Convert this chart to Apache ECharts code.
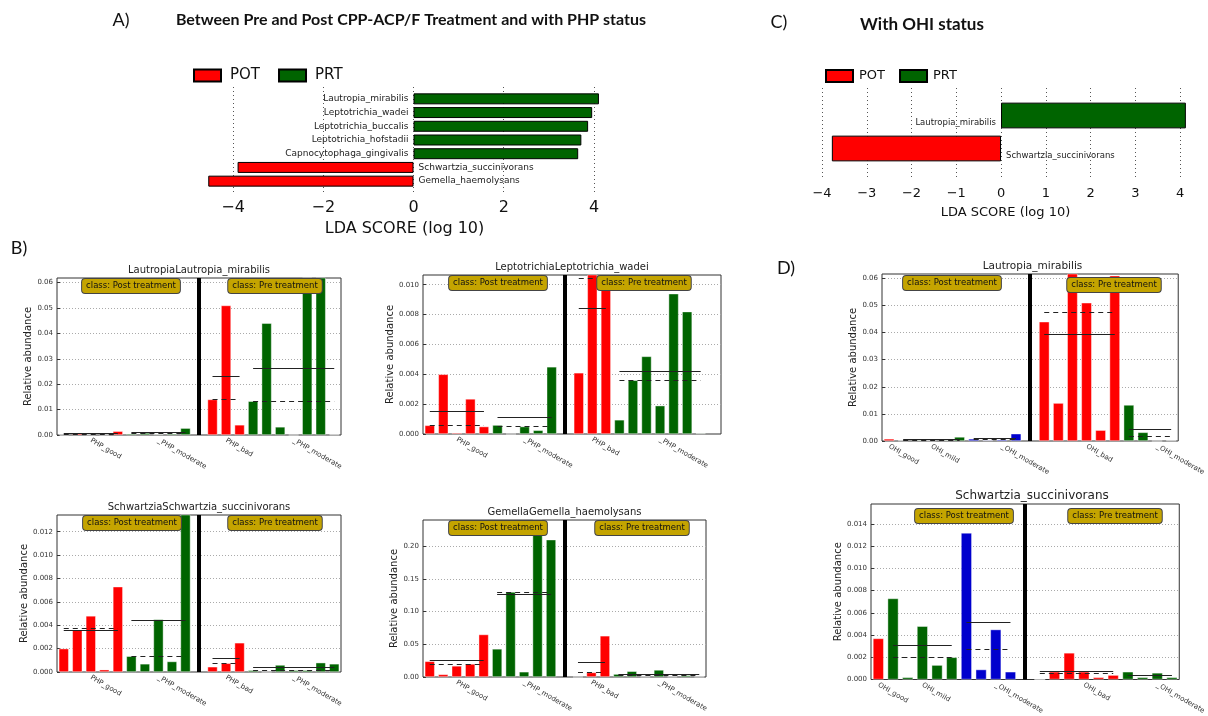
<!DOCTYPE html>
<html>
<head>
<meta charset="utf-8">
<script src="https://cdn.jsdelivr.net/npm/echarts@6/dist/echarts.min.js"></script>
<style>
  html, body { margin: 0; padding: 0; background: #fff; }
  #chart { width: 1208px; height: 716px; }
</style>
</head>
<body>
<div id="chart"></div>
<script>
// ---- LDA scores (panels A and C)
var ldaTaxaA = ['Lautropia_mirabilis', 'Leptotrichia_wadei', 'Leptotrichia_buccalis', 'Leptotrichia_hofstadii',
  'Capnocytophaga_gingivalis', 'Schwartzia_succinivorans', 'Gemella_haemolysans'];
var ldaScoresA = [4.11, 3.96, 3.87, 3.72, 3.65, -3.90, -4.55];
var ldaTaxaC = ['Lautropia_mirabilis', 'Schwartzia_succinivorans'];
var ldaScoresC = [4.13, -3.78];

// ---- sample groups
var phpGroups = ['PHP_good', '_PHP_moderate', 'PHP_bad', '_PHP_moderate'];
var phpCounts = [5, 5, 3, 7];
var phpColors = ['#f00', '#006400', '#f00', '#006400'];
var ohiGroups = ['OHI_good', 'OHI_mild', '_OHI_moderate', 'OHI_bad', '_OHI_moderate'];
var ohiCounts = [1, 5, 4, 6, 4];
var ohiColors = ['#f00', '#006400', '#0000cd', '#f00', '#006400'];

// ---- relative abundance per sample, with group mean (solid) and median (dashed)
var lautropiaPHP = [0.0001, 0.0008, 0.0002, 0.0001, 0.0015, 0.0005, 0.0008, 0.0003, 0.0005, 0.0027,
  0.014, 0.051, 0.004, 0.0133, 0.044, 0.0032, 0, 0.0622, 0.0621, 0.0002];
var lautropiaPHPMean = [0.00055, 0.001, 0.023, 0.0263];
var lautropiaPHPMedian = [0.0002, 0.0005, 0.014, 0.0133];

var wadeiPHP = [0.00058, 0.004, 0.00008, 0.00235, 0.0005, 0.0006, 0, 0.0005, 0.00025, 0.0045,
  0.0041, 0.0108, 0.0104, 0.00095, 0.0036, 0.0052, 0.0019, 0.0094, 0.0082, 0.00005];
var wadeiPHPMean = [0.0015, 0.00115, 0.0084, 0.0042];
var wadeiPHPMedian = [0.00058, 0.0005, 0.0104, 0.0036];

var schwartziaPHP = [0.002, 0.0036, 0.0048, 0.0002, 0.0073, 0.00135, 0.0007, 0.0045, 0.0009, 0.0148,
  0.00045, 0.00075, 0.0025, 0.00015, 0, 0.0006, 0.00015, 0.00015, 0.0008, 0.0007];
var schwartziaPHPMean = [0.0036, 0.00445, 0.0012, 0.0004];
var schwartziaPHPMedian = [0.0037, 0.00135, 0.00075, 0.00015];

var gemellaPHP = [0.024, 0.004, 0.017, 0.02, 0.065, 0.043, 0.13, 0.008, 0.245, 0.21,
  0, 0.007, 0.063, 0.0045, 0.0088, 0.0005, 0.0108, 0.0005, 0.0025, 0.0004];
var gemellaPHPMean = [0.026, 0.126, 0.023, 0.0045];
var gemellaPHPMedian = [0.02, 0.13, 0.007, 0.003];

var lautropiaOHI = [0.0008, 0.0002, 0.0003, 0.0002, 0.0003, 0.0015, 0.0008, 0.0003, 0.0005, 0.0027,
  0.044, 0.014, 0.063, 0.051, 0.004, 0.061, 0.0133, 0.0032, 0, 0.0002];
var lautropiaOHIMean = [null, 0.0005, 0.0011, 0.0395, 0.0042];
var lautropiaOHIMedian = [null, 0.0003, 0.0007, 0.0475, 0.0017];

var schwartziaOHI = [0.0037, 0.0073, 0.0002, 0.0048, 0.0013, 0.002, 0.0132, 0.0009, 0.0045, 0.0007,
  0, 0.0007, 0.0024, 0.0007, 0.0002, 0.0004, 0.0007, 0.0002, 0.0006, 0.0002];
var schwartziaOHIMean = [null, 0.0031, 0.0052, 0.00077, 0.0004];
var schwartziaOHIMedian = [null, 0.002, 0.0027, 0.0006, 0.0004];

var FONT = 'DejaVu Sans';
var HEAD = 'Lato';
var chart = echarts.init(document.getElementById('chart'));

var grids = [], xAxes = [], yAxes = [], series = [], graphics = [];

function minus(v) { return String(v).replace('-', '\u2212'); }

function ldaPanel(taxa, scores, o) {
  // frame grid: carries the dotted grid lines and the tick labels, a bit taller than the bars
  var fi = grids.length;
  grids.push(o.frame);
  xAxes.push({
    gridIndex: fi, type: 'value', min: o.min, max: o.max, interval: o.interval, splitNumber: o.splitNumber,
    axisLine: { show: false }, axisTick: { show: false },
    splitLine: { show: true, showMinLine: o.showMinLine, showMaxLine: false, lineStyle: { color: '#555', type: [1, 3] } },
    axisLabel: { fontSize: o.fs, color: '#111', margin: o.margin, showMinLabel: o.showMinLine, showMaxLabel: false, formatter: minus },
    name: 'LDA SCORE (log 10)', nameLocation: 'middle', nameGap: o.nameGap,
    nameTextStyle: { fontSize: o.fs, color: '#111' }
  });
  yAxes.push({ gridIndex: fi, type: 'value', show: false, min: 0, max: 1 });

  // bar grid
  var gi = grids.length;
  grids.push(o.rect);
  xAxes.push({ gridIndex: gi, type: 'value', min: o.min, max: o.max, show: false });
  yAxes.push({ gridIndex: gi, type: 'category', data: taxa, inverse: true, show: false });
  series.push({
    name: 'POT', type: 'bar', xAxisIndex: gi, yAxisIndex: gi, barGap: '-100%', barCategoryGap: o.gap,
    itemStyle: { color: '#f00', borderColor: '#000', borderWidth: 1 },
    label: { show: true, position: 'right', distance: 5, formatter: '{b}', fontSize: o.lfs, color: '#222', offset: o.loff },
    data: scores.map(function (v) { return v < 0 ? v : '-'; })
  });
  series.push({
    name: 'PRT', type: 'bar', xAxisIndex: gi, yAxisIndex: gi, barGap: '-100%', barCategoryGap: o.gap,
    itemStyle: { color: '#006400', borderColor: '#000', borderWidth: 1 },
    label: { show: true, position: 'left', distance: 5, formatter: '{b}', fontSize: o.lfs, color: '#222', offset: o.loff },
    data: scores.map(function (v) { return v > 0 ? v : '-'; })
  });
}

function abundancePanel(p) {
  var gi = grids.length;
  grids.push({ left: p.rect[0], top: p.rect[1], width: p.rect[2], height: p.rect[3], show: true, borderColor: '#333', borderWidth: 1 });
  var cats = [], data = [], lines = [], s = 0, slot = 0, div = 0;
  p.counts.forEach(function (n, g) {
    if (g === p.leftGroups) { div = slot; cats.push(''); data.push('-'); slot++; }
    var start = slot;
    for (var k = 0; k < n; k++) {
      cats.push(k === Math.floor(n / 2) ? p.groups[g] : '');
      data.push({ value: p.values[s++], itemStyle: { color: p.colors[g] } });
      slot++;
    }
    if (n > 1 && p.means[g] != null) {
      lines.push([{ coord: [start, p.means[g]], lineStyle: { type: 'solid', width: 1, color: '#222' } }, { coord: [slot - 1, p.means[g]] }]);
      lines.push([{ coord: [start, p.medians[g]], lineStyle: { type: [5, 4], width: 1.2, color: '#222' } }, { coord: [slot - 1, p.medians[g]] }]);
    }
  });
  for (var e = 0; e < p.extra; e++) { cats.push(''); data.push('-'); }
  lines.push([{ coord: [div, 0], lineStyle: { width: 4, color: '#000', type: 'solid' } }, { coord: [div, p.ymax] }]);

  xAxes.push({
    gridIndex: gi, type: 'category', data: cats,
    axisLine: { show: false }, axisTick: { show: false },
    axisLabel: { interval: 0, rotate: -30, fontSize: 7, color: '#333', margin: 5 }
  });
  yAxes.push({
    gridIndex: gi, type: 'value', min: 0, max: p.ymax, interval: p.step,
    axisLine: { show: false },
    axisTick: { show: true, inside: true, length: 3, lineStyle: { color: '#333' } },
    splitLine: { lineStyle: { color: '#aaa', type: [1, 2] }, showMaxLine: false, showMinLine: false },
    axisLabel: { fontSize: 7, color: '#333', margin: 4, showMaxLabel: false,
      formatter: function (v) { return v.toFixed(p.dec); } },
    name: 'Relative abundance', nameLocation: 'middle', nameGap: p.nameGap,
    nameTextStyle: { fontSize: 10, color: '#222' }
  });
  series.push({
    type: 'bar', xAxisIndex: gi, yAxisIndex: gi, barWidth: '74%', data: data,
    itemStyle: { borderColor: 'rgba(255,255,255,0.7)', borderWidth: 0.6 },
    markLine: { symbol: ['none', 'none'], silent: true, label: { show: false }, data: lines }
  });
  graphics.push({ type: 'text', x: p.rect[0] + p.rect[2] / 2, y: p.rect[1] - 8,
    style: { text: p.title, align: 'center', verticalAlign: 'middle', fontSize: p.titleFs, fontFamily: FONT, fill: '#222' } });
  ['class: Post treatment', 'class: Pre treatment'].forEach(function (t, i) {
    graphics.push({ type: 'text', x: p.boxes[i][0], y: p.boxes[i][1], z: 100,
      style: { text: t, align: 'center', verticalAlign: 'middle', fontSize: 8.5, fontFamily: FONT, fill: '#111',
        backgroundColor: '#c4a400', borderColor: '#444', borderWidth: 1, borderRadius: 3, padding: [3, 4, 2, 4] } });
  });
}

ldaPanel(ldaTaxaA, ldaScoresA, {
  frame: { left: 206, top: 87, width: 397, height: 108 },
  rect: { left: 206, top: 92, width: 397, height: 96 }, min: -4.6, max: 4.2, splitNumber: 5, showMinLine: false,
  fs: 16, margin: 5, nameGap: 26, gap: '20%', lfs: 9, loff: [0, 0]
});
ldaPanel(ldaTaxaC, ldaScoresC, {
  frame: { left: 822, top: 88, width: 367, height: 92 },
  rect: { left: 822, top: 99, width: 367, height: 66 }, min: -4, max: 4.2, interval: 1, showMinLine: true,
  fs: 13, margin: 7, nameGap: 26, gap: '22%', lfs: 8.5, loff: [0, 7]
});

abundancePanel({ rect: [57, 278, 284, 157], ymax: 0.0618, step: 0.01, dec: 2, nameGap: 13, extra: 0, leftGroups: 2,
  groups: phpGroups, counts: phpCounts, colors: phpColors,
  values: lautropiaPHP, means: lautropiaPHPMean, medians: lautropiaPHPMedian,
  title: 'LautropiaLautropia_mirabilis', titleFs: 10, boxes: [[131, 286], [275, 286]] });
abundancePanel({ rect: [423, 275, 298, 159], ymax: 0.01065, step: 0.002, dec: 3, nameGap: 15, extra: 1, leftGroups: 2,
  groups: phpGroups, counts: phpCounts, colors: phpColors,
  values: wadeiPHP, means: wadeiPHPMean, medians: wadeiPHPMedian,
  title: 'LeptotrichiaLeptotrichia_wadei', titleFs: 10, boxes: [[498, 283], [644, 283]] });
abundancePanel({ rect: [57, 515, 284, 157], ymax: 0.01343, step: 0.002, dec: 3, nameGap: 14, extra: 0, leftGroups: 2,
  groups: phpGroups, counts: phpCounts, colors: phpColors,
  values: schwartziaPHP, means: schwartziaPHPMean, medians: schwartziaPHPMedian,
  title: 'SchwartziaSchwartzia_succinivorans', titleFs: 10, boxes: [[132, 523], [275, 523]] });
abundancePanel({ rect: [423, 520, 283, 157], ymax: 0.24, step: 0.05, dec: 2, nameGap: 12, extra: 0, leftGroups: 2,
  groups: phpGroups, counts: phpCounts, colors: phpColors,
  values: gemellaPHP, means: gemellaPHPMean, medians: gemellaPHPMedian,
  title: 'GemellaGemella_haemolysans', titleFs: 10, boxes: [[498, 528], [642, 528]] });
abundancePanel({ rect: [882, 274, 301, 167], ymax: 0.0616, step: 0.01, dec: 2, nameGap: 17, extra: 0, leftGroups: 3,
  groups: ohiGroups, counts: ohiCounts, colors: ohiColors,
  values: lautropiaOHI, means: lautropiaOHIMean, medians: lautropiaOHIMedian,
  title: 'Lautropia_mirabilis', titleFs: 10.5, boxes: [[952, 283], [1114, 285]] });
abundancePanel({ rect: [871, 504, 322, 180], ymax: 0.0158, step: 0.002, dec: 3, nameGap: 24, extra: 0, leftGroups: 3,
  groups: ohiGroups, counts: ohiCounts, colors: ohiColors,
  values: schwartziaOHI, means: schwartziaOHIMean, medians: schwartziaOHIMedian,
  title: 'Schwartzia_succinivorans', titleFs: 12, boxes: [[964, 516], [1115, 516]] });

// panel letters and headings
[['A)', 121, 20], ['B)', 19, 248], ['C)', 779, 22], ['D)', 786, 268]].forEach(function (l) {
  graphics.push({ type: 'text', x: l[1], y: l[2], style: { text: l[0], align: 'center', verticalAlign: 'middle',
    fontSize: 18, fontFamily: HEAD, fill: '#111' } });
});
graphics.push({ type: 'text', x: 411, y: 20, style: { text: 'Between Pre and Post CPP-ACP/F Treatment and with PHP status',
  align: 'center', verticalAlign: 'middle', fontSize: 16, fontWeight: 'bold', fontFamily: HEAD, fill: '#111' } });
graphics.push({ type: 'text', x: 922, y: 25, style: { text: 'With OHI status',
  align: 'center', verticalAlign: 'middle', fontSize: 17, fontWeight: 'bold', fontFamily: HEAD, fill: '#111' } });

chart.setOption({
  animation: false,
  textStyle: { fontFamily: FONT },
  legend: [
    { data: ['POT', 'PRT'], left: 188, top: 63, itemWidth: 27, itemHeight: 12, itemGap: 18, icon: 'rect',
      textStyle: { fontSize: 15, color: '#111', padding: [0, 0, 0, 4] } },
    { data: ['POT', 'PRT'], left: 820, top: 64, itemWidth: 27, itemHeight: 12, itemGap: 14, icon: 'rect',
      textStyle: { fontSize: 13, color: '#111', padding: [0, 0, 0, 1] } }
  ],
  grid: grids,
  xAxis: xAxes,
  yAxis: yAxes,
  series: series,
  graphic: graphics
});
</script>
</body>
</html>
